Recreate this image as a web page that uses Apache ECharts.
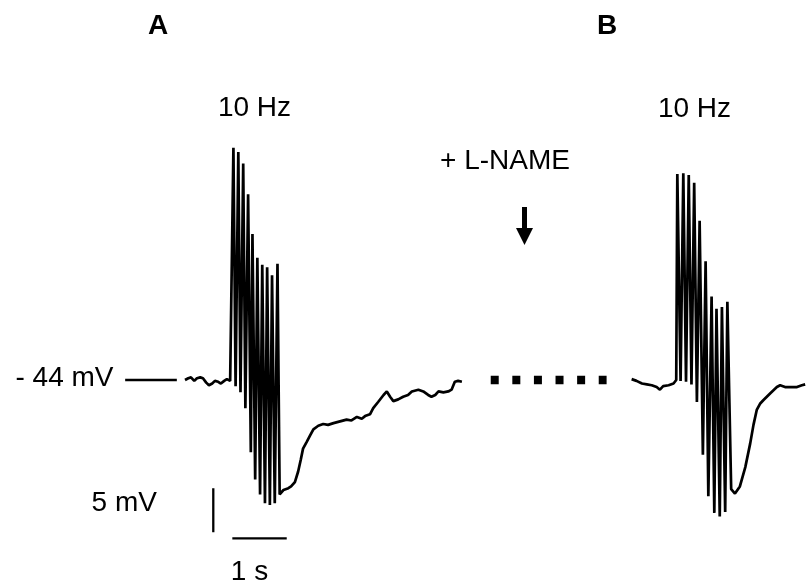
<!DOCTYPE html>
<html>
<head>
<meta charset="utf-8">
<script src="https://cdn.jsdelivr.net/npm/echarts@6/dist/echarts.min.js"></script>
<style>
  html, body { margin: 0; padding: 0; background: #ffffff; }
  #chart { width: 807px; height: 584px; }
</style>
</head>
<body>
<div id="chart"></div>
<script>
// Membrane potential recordings, 10 Hz stimulus train.
// Trace A: control. Time in seconds from the start of the sweep, potential in mV.
const traceATime = [
  0.00, 0.06, 0.11, 0.17, 0.22, 0.28, 0.33, 0.39, 0.44, 0.50, 0.55, 0.61, 0.66, 0.72, 0.77, 0.83, 0.86,
  0.89, 0.93, 0.98, 1.02, 1.07, 1.11, 1.16, 1.21, 1.24, 1.29, 1.33, 1.38, 1.42, 1.47, 1.51, 1.56, 1.60, 1.65, 1.70, 1.74,
  1.81, 1.90, 1.95, 2.02, 2.08, 2.13, 2.17, 2.24, 2.30, 2.36, 2.45, 2.54, 2.63, 2.73, 2.85, 2.97, 3.06, 3.16, 3.25, 3.31,
  3.40, 3.46, 3.55, 3.65, 3.71, 3.77, 3.83, 3.92, 4.01, 4.10, 4.17, 4.29, 4.38, 4.47, 4.53, 4.60, 4.66, 4.75, 4.84, 4.90,
  4.96, 5.02, 5.09
];
const traceAmV = [
  -44.0, -43.8, -43.7, -44.1, -43.8, -43.7, -43.8, -44.3, -44.6, -44.4, -44.1, -44.2, -44.4, -44.1, -43.9, -44.1, -44.0,
  -17.6, -44.7, -18.1, -45.4, -19.4, -47.2, -22.9, -52.2, -27.4, -55.3, -30.1, -57.0, -30.9, -58.0, -31.2, -58.2, -32.1, -58.0, -30.8, -57.0,
  -56.5, -56.3, -56.1, -55.6, -54.4, -53.0, -51.8, -51.0, -50.3, -49.6, -49.2, -49.0, -49.1, -48.9, -48.7, -48.5, -48.6, -48.2, -48.4, -48.1,
  -47.9, -47.2, -46.5, -45.7, -45.3, -45.9, -46.4, -46.2, -45.9, -45.7, -45.3, -45.1, -45.3, -45.7, -45.9, -45.7, -45.3, -45.4, -45.3, -45.1,
  -44.2, -44.1, -44.2
];

// Trace B: after L-NAME.
const traceBTime = [
  0.01, 0.10, 0.20, 0.29, 0.38, 0.47, 0.53, 0.59, 0.69, 0.78, 0.83,
  0.85, 0.91, 0.96, 1.01, 1.06, 1.11, 1.16, 1.21, 1.26, 1.32, 1.37, 1.42, 1.48, 1.53, 1.57, 1.63, 1.67, 1.73, 1.77, 1.84,
  1.91, 2.00, 2.10, 2.19, 2.25, 2.31, 2.37, 2.43, 2.56, 2.68, 2.74, 2.83, 2.95, 3.05, 3.14, 3.20
];
const traceBmV = [
  -43.9, -44.1, -44.4, -44.5, -44.6, -44.8, -45.1, -44.7, -44.6, -44.4, -44.0,
  -20.6, -44.1, -20.5, -44.2, -20.7, -44.5, -21.6, -46.5, -25.9, -52.5, -30.5, -57.2, -34.5, -59.1, -35.9, -59.5, -35.7, -59.0, -35.1, -56.4,
  -56.9, -56.1, -53.9, -51.2, -49.1, -47.4, -46.7, -46.3, -45.5, -44.8, -44.6, -44.8, -44.8, -44.8, -44.6, -44.5
];

const restingPotential = -44;   // mV, marked on the left
const scaleBarVoltage = 5;      // mV
const scaleBarTime = 1;         // s
const panelLabels = ['A', 'B'];
const stimulusLabel = '10 Hz';
const drugLabel = '+ L-NAME';

// ---- layout ----
const W = 807, H = 584;
const PX_PER_S = 54.4, PX_PER_MV = 8.8;
const ORIGIN_X = 185;            // pixel where trace A starts
const REST_Y = 380;              // pixel row of the resting potential
const TRACE_B_SHIFT = 8.2;       // s, horizontal placement of trace B
const xMin = -ORIGIN_X / PX_PER_S;
const xMax = xMin + W / PX_PER_S;
const yMax = restingPotential + REST_Y / PX_PER_MV;
const yMin = yMax - H / PX_PER_MV;

function zip(ts, vs, shift) {
  const n = Math.min(ts.length, vs.length);
  const out = [];
  for (let i = 0; i < n; i++) out.push([ts[i] + shift, vs[i]]);
  return out;
}

const FONT = '"Liberation Sans", Arial, Helvetica, sans-serif';
const traceStyle = { color: '#000', width: 2.7, join: 'bevel', cap: 'butt' };

function lineSeries(data, lineStyle) {
  return {
    type: 'line', data, showSymbol: false, symbol: 'none', clip: false,
    silent: true, animation: false, sampling: null,
    lineStyle
  };
}

const volBarX = 0.52, volBarBottom = -61.3;
const timeBarX = 0.87, timeBarY = -62.0;

const chart = echarts.init(document.getElementById('chart'), null, { renderer: 'canvas' });
chart.setOption({
  backgroundColor: '#ffffff',
  animation: false,
  grid: { left: 0, right: 0, top: 0, bottom: 0, containLabel: false },
  xAxis: { type: 'value', min: xMin, max: xMax, show: false },
  yAxis: { type: 'value', min: yMin, max: yMax, show: false },
  series: [
    lineSeries(zip(traceATime, traceAmV, 0), traceStyle),
    lineSeries(zip(traceBTime, traceBmV, TRACE_B_SHIFT), traceStyle),
    // resting potential marker
    lineSeries([[-1.10, restingPotential], [-0.15, restingPotential]], { color: '#000', width: 2.4 }),
    // break in the recording while the drug is applied
    lineSeries([[5.62, restingPotential], [7.75, restingPotential]],
      { color: '#000', width: 8.3, type: [8, 13.6], cap: 'butt' }),
    // scale bars
    lineSeries([[volBarX, volBarBottom], [volBarX, volBarBottom + scaleBarVoltage]], { color: '#000', width: 2.3, cap: 'butt' }),
    lineSeries([[timeBarX, timeBarY], [timeBarX + scaleBarTime, timeBarY]], { color: '#000', width: 2.3, cap: 'butt' })
  ],
  graphic: [
    { type: 'text', x: 158, y: 26, style: { text: panelLabels[0], font: 'bold 28px ' + FONT, fill: '#000', align: 'center', verticalAlign: 'middle' } },
    { type: 'text', x: 607, y: 26, style: { text: panelLabels[1], font: 'bold 28px ' + FONT, fill: '#000', align: 'center', verticalAlign: 'middle' } },
    { type: 'text', x: 254.5, y: 108.5, style: { text: stimulusLabel, font: '28px ' + FONT, fill: '#000', align: 'center', verticalAlign: 'middle' } },
    { type: 'text', x: 694.5, y: 109, style: { text: stimulusLabel, font: '28px ' + FONT, fill: '#000', align: 'center', verticalAlign: 'middle' } },
    { type: 'text', x: 505, y: 161.7, style: { text: drugLabel, font: '28px ' + FONT, fill: '#000', align: 'center', verticalAlign: 'middle' } },
    { type: 'text', x: 113.5, y: 378, style: { text: '- ' + Math.abs(restingPotential) + ' mV', font: '28px ' + FONT, fill: '#000', align: 'right', verticalAlign: 'middle' } },
    { type: 'text', x: 124.2, y: 503.3, style: { text: scaleBarVoltage + ' mV', font: '28px ' + FONT, fill: '#000', align: 'center', verticalAlign: 'middle' } },
    { type: 'text', x: 249.5, y: 572, style: { text: scaleBarTime + ' s', font: '28px ' + FONT, fill: '#000', align: 'center', verticalAlign: 'middle' } },
    // arrow marking drug application
    { type: 'rect', shape: { x: 522, y: 207, width: 5, height: 23 }, style: { fill: '#000' } },
    { type: 'polygon', shape: { points: [[516, 228], [533, 228], [524.5, 245]] }, style: { fill: '#000' } }
  ]
});
</script>
</body>
</html>
